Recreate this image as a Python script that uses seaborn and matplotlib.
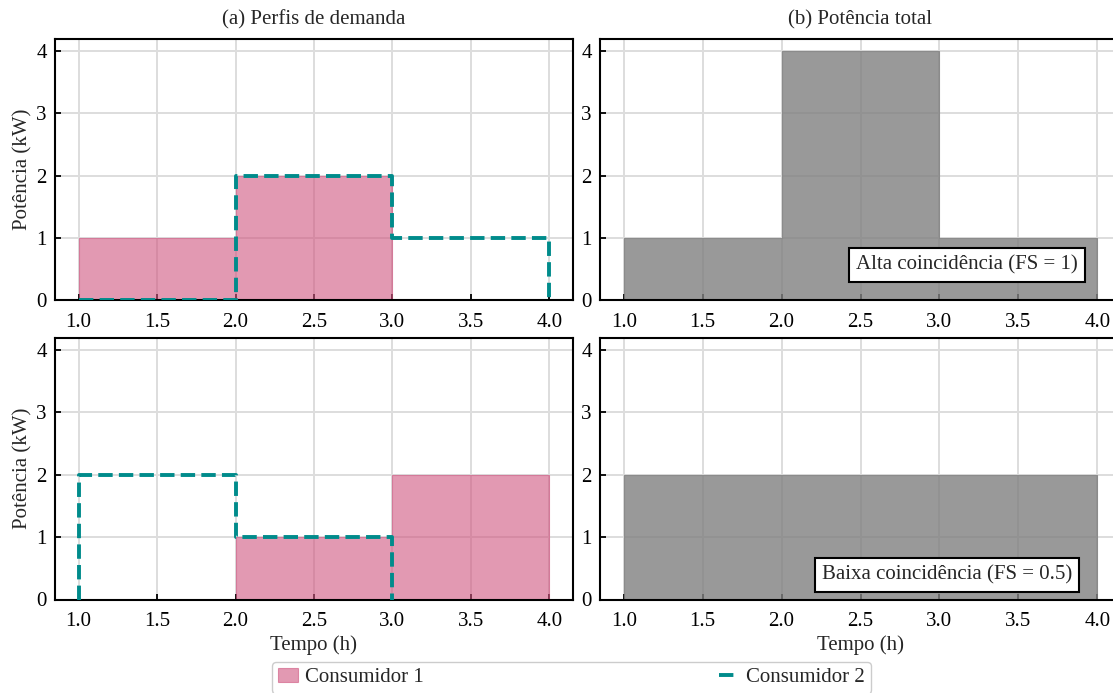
import numpy as np
import matplotlib
matplotlib.use("Agg")
import matplotlib.pyplot as plt
import seaborn as sns

# Hour boundaries and per-hour demand (kW)
hour_edges = [1.0, 2.0, 3.0, 4.0]
# Scenario 1: high coincidence
c1_high = [1, 2, 0]
c2_high = [0, 2, 1]
# Scenario 2: low coincidence
c1_low = [0, 1, 2]
c2_low = [2, 1, 0]

scenario_labels = ["Alta coincidência (FS = 1)", "Baixa coincidência (FS = 0.5)"]
series_names = ["Consumidor 1", "Consumidor 2"]
col_titles = ["(a) Perfis de demanda", "(b) Potência total"]
x_ticks = [1.0, 1.5, 2.0, 2.5, 3.0, 3.5, 4.0]
y_ticks = [0, 1, 2, 3, 4]

PINK = "#d0557f"
TEAL = "#008b8b"
GREY = "#808080"

sns.set_theme(style="whitegrid")
plt.rcParams.update({
    "font.family": ["Liberation Serif", "DejaVu Serif"],
    "font.size": 15,
    "axes.labelsize": 15,
    "axes.titlesize": 15,
    "legend.fontsize": 15,
    "axes.edgecolor": "black",
    "axes.linewidth": 1.5,
    "grid.color": "#dddddd",
    "grid.linewidth": 1.4,
    "xtick.direction": "in",
    "ytick.direction": "in",
    "xtick.bottom": True,
    "ytick.left": True,
    "xtick.major.size": 4.5,
    "ytick.major.size": 4.5,
    "xtick.major.width": 1.3,
    "ytick.major.width": 1.3,
    "xtick.color": "black",
    "ytick.color": "black",
    "xtick.labelsize": 15,
    "ytick.labelsize": 15,
})

W, H = 1113, 693
fig = plt.figure(figsize=(W / 100, H / 100), dpi=100)


def px_axes(x0, x1, ytop, ybot):
    return fig.add_axes([x0 / W, (H - ybot) / H, (x1 - x0) / W, (ybot - ytop) / H])


col_x = [(55, 573), (600, 1121)]
row_y = [(38.5, 300.5), (337.5, 599.5)]
axes = [[px_axes(*col_x[c], *row_y[r]) for c in range(2)] for r in range(2)]


def step_arrays(values):
    # step-post vertices for per-hour values, closing to zero at the end
    v = np.trim_zeros(np.asarray(values, dtype=float), "b")
    n = len(v)
    xs = [hour_edges[0]] + list(hour_edges[: n + 1])
    ys = [0.0] + list(v) + [0.0]
    return np.array(xs), np.array(ys)


scenarios = [(c1_high, c2_high), (c1_low, c2_low)]
for r, (c1, c2) in enumerate(scenarios):
    ax_a, ax_b = axes[r]

    # individual profiles
    y1 = list(c1) + [0]
    ax_a.fill_between(hour_edges, y1, step="post", color=PINK, alpha=0.6,
                      linewidth=0.8, edgecolor=PINK, zorder=2,
                      label=series_names[0])
    xs, ys = step_arrays(c2)
    sns.lineplot(x=xs, y=ys, ax=ax_a, drawstyle="steps-post", sort=False,
                 estimator=None, color=TEAL, linewidth=2.8, linestyle="--",
                 zorder=3, label=series_names[1], legend=False)

    # aggregated power
    total = list(np.add(c1, c2)) + [0]
    ax_b.fill_between(hour_edges, total, step="post", color=GREY, alpha=0.8,
                      linewidth=0.8, edgecolor=GREY, zorder=2)

    for ax in (ax_a, ax_b):
        ax.set_xlim(0.85, 4.15)
        ax.set_ylim(0, 4.2)
        ax.set_xticks(x_ticks)
        ax.set_xticklabels([f"{t:.1f}" for t in x_ticks])
        ax.set_yticks(y_ticks)
        ax.grid(True, zorder=0)
        ax.set_axisbelow(True)
        for s in ax.spines.values():
            s.set_color("black")
            s.set_linewidth(1.5)
        ax.tick_params(axis="x", pad=9)
        ax.tick_params(axis="y", pad=6)
        ax.set_xlabel("")
        ax.set_ylabel("")

    ax_a.set_ylabel("Potência (kW)", labelpad=3)
    if r == 1:
        ax_a.set_xlabel("Tempo (h)", labelpad=3)
        ax_b.set_xlabel("Tempo (h)", labelpad=3)

axes[0][0].set_title(col_titles[0], pad=10)
axes[0][1].set_title(col_titles[1], pad=10)

box = dict(boxstyle="square,pad=0.35", fc="white", ec="black", lw=1.5)
axes[0][1].text(0.704, 0.135, scenario_labels[0], transform=axes[0][1].transAxes,
                ha="center", va="center", fontsize=15, bbox=box, zorder=5)
axes[1][1].text(0.666, 0.093, scenario_labels[1], transform=axes[1][1].transAxes,
                ha="center", va="center", fontsize=15, bbox=box, zorder=5)

handles, labels = axes[0][0].get_legend_handles_labels()
fig.legend(handles, labels, loc="upper left", ncol=2, mode="expand",
           bbox_to_anchor=(272 / W, (H - 661.5) / H, 599 / W, 0),
           bbox_transform=fig.transFigure, borderaxespad=0, borderpad=0.3,
           handlelength=0.95, handletextpad=0.35, fontsize=15, frameon=True,
           edgecolor="#cccccc", fancybox=True, framealpha=1)

fig.savefig("out.png", dpi=100)
